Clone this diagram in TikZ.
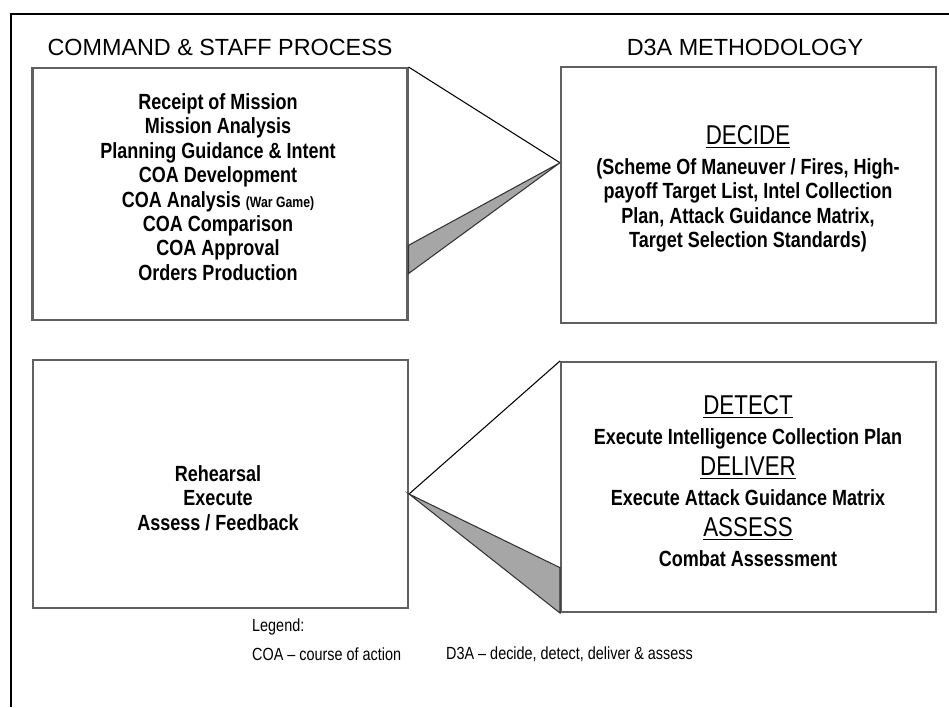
\documentclass[tikz,border=0pt]{standalone}
\usepackage{fontspec}
\setmainfont{Liberation Sans}
\newfontfamily\narrowfont{Liberation Sans}[FakeStretch=0.82]
\usetikzlibrary{calc}

\tikzset{
  box/.style={draw=gray!75!black, line width=1.2pt, minimum width=7.5cm, inner sep=0pt},
  steps/.style={align=center, font=\narrowfont\bfseries\fontsize{12.5}{13.9}\selectfont},
  title/.style={font=\fontsize{13.3}{15}\selectfont},
  legend/.style={anchor=west, font=\narrowfont\fontsize{10}{12}\selectfont},
  wedge/.style={fill=gray!70, draw=black!80, line width=0.6pt, line join=miter},
}
\newcommand{\stage}[1]{{\narrowfont\mdseries\fontsize{15.5}{17}\selectfont\underline{#1}}}

\begin{document}
\begin{tikzpicture}[x=0.02cm, y=-0.02cm]
\useasboundingbox (0,0) rectangle (949,707);
% frame
\draw[line width=1.3pt] (11,707) -- (11,14) -- (949,14);

% headings
\node[title] (cmdtitle) at (220,47) {COMMAND \& STAFF PROCESS};
\node[title] (d3atitle) at (745,47) {D3A METHODOLOGY};

% boxes
\node[box, minimum height=5.04cm] (cmd) at (220,194) {};
\node[box, minimum height=5.12cm] (decide) at (748.5,195) {};
\node[box, minimum height=4.96cm] (exec) at (220.5,484) {};
\node[box, minimum height=5cm] (d3a) at (748.5,487) {};

% box texts
\node[steps] (cmdsteps) at (218,187) {Receipt of Mission\\ Mission Analysis\\
  Planning Guidance \& Intent\\ COA Development\\
  COA Analysis {\fontsize{8.5}{10}\selectfont(War Game)}\\ COA Comparison\\
  COA Approval\\ Orders Production};
\node[steps] (decidetext) at (748,189) {\stage{DECIDE}\\[3pt]
  (Scheme Of Maneuver / Fires, High-\\ payoff Target List, Intel Collection\\
  Plan, Attack Guidance Matrix,\\ Target Selection Standards)};
\node[steps] (exectext) at (218,498) {Rehearsal\\ Execute\\ Assess / Feedback};
\node[steps] (d3atext) at (748,481) {\stage{DETECT}\\[3pt]
  Execute Intelligence Collection Plan\\[4pt] \stage{DELIVER}\\[3pt]
  Execute Attack Guidance Matrix\\[4pt] \stage{ASSESS}\\[3pt]
  Combat Assessment};

% wedges between the columns
\coordinate (hit) at ($(decide.north west)!0.375!(decide.south west)$);
\draw[line width=0.6pt] (cmd.north east) -- (hit);
\filldraw[wedge] (hit) -- ($(cmd.north east)!0.702!(cmd.south east)$)
  -- ($(cmd.north east)!0.813!(cmd.south east)$) -- cycle;

\coordinate (fork) at ($(exec.north east)!0.54!(exec.south east)$);
\draw[line width=0.6pt] (fork) -- (d3a.north west);
\filldraw[wedge] (fork) -- ($(d3a.north west)!0.82!(d3a.south west)$)
  -- (d3a.south west) -- cycle;

% legend
\node[legend] (legendhead) at (246,627) {Legend:};
\node[legend] (coaterm) at (246,654) {COA – course of action};
\node[legend] (d3aterm) at (440,654) {D3A – decide, detect, deliver \& assess};
\end{tikzpicture}
\end{document}
